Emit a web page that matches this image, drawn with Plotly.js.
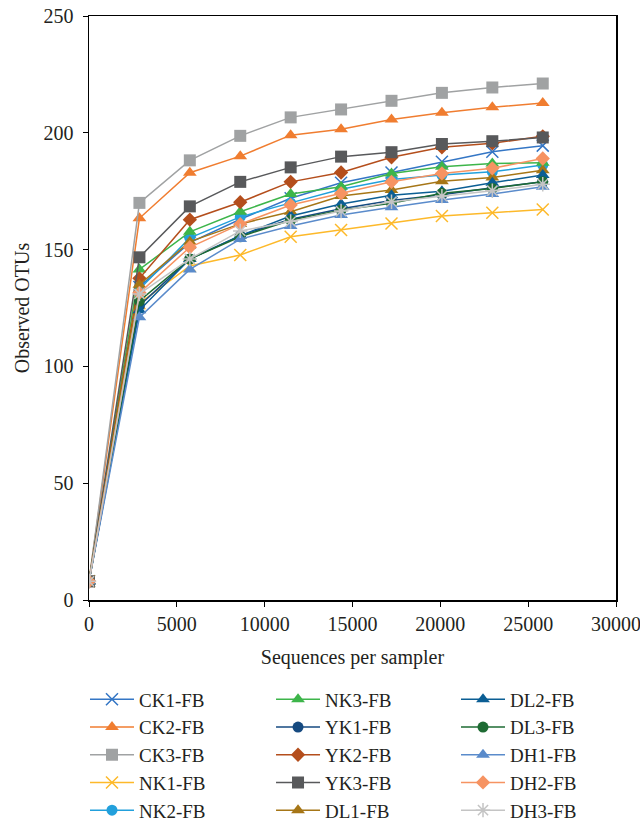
<!DOCTYPE html>
<html>
<head>
<meta charset="utf-8">
<script src="https://cdn.plot.ly/plotly-3.0.1.min.js"></script>
<style>html,body{margin:0;padding:0;background:#fff;}#chart{width:640px;height:827px;}</style>
</head>
<body>
<div id="chart"></div>
<script>
const sequences = [0, 2870, 5740, 8610, 11480, 14350, 17220, 20090, 22960, 25830];
const seriesNames = ["CK1-FB","CK2-FB","CK3-FB","NK1-FB","NK2-FB","NK3-FB","YK1-FB","YK2-FB","YK3-FB","DL1-FB","DL2-FB","DL3-FB","DH1-FB","DH2-FB","DH3-FB"];
const CK1 = [8, 134, 153, 163, 172, 178.6, 183, 187.6, 191.9, 194.5];
const CK2 = [8, 163.4, 182.9, 190, 199, 201.5, 205.7, 208.6, 210.9, 212.8];
const CK3 = [8, 170, 188.2, 198.7, 206.6, 210, 213.7, 217.1, 219.4, 221.1];
const NK1 = [8, 127, 143, 147.7, 155.5, 158.4, 161.2, 164.4, 165.8, 167.2];
const NK2 = [8, 133, 155, 164, 170, 175.8, 180, 181.9, 183.3, 186.2];
const NK3 = [8, 141.5, 157.6, 166.2, 173.8, 176.9, 182.6, 185.5, 186.9, 187.2];
const YK1 = [8, 126, 146, 156, 163, 167.5, 171, 173.5, 176.5, 179];
const YK2 = [8, 137.7, 162.8, 170.3, 179, 183, 189.5, 193.8, 195.5, 198.5];
const YK3 = [8, 146.7, 168.5, 179, 185.2, 189.8, 191.7, 195.2, 196.4, 198];
const DL1 = [8, 135, 153.4, 161, 166.2, 172.9, 175.5, 179.3, 180.9, 184];
const DL2 = [8, 124, 146, 156, 164.4, 169.5, 173.3, 175, 178.6, 181.9];
const DL3 = [8, 128, 146, 155.5, 162.6, 166.9, 169.8, 174.1, 176.2, 179];
const DH1 = [8, 121, 141.5, 154.5, 160.1, 164.8, 168.1, 171.2, 173.8, 176.9];
const DH2 = [8, 131.5, 151, 160.9, 169.1, 174.1, 179, 182.6, 184.8, 189];
const DH3 = [8, 131, 146, 158, 162, 166.5, 170.5, 172.9, 175.2, 178];
const xTicks = [0, 5000, 10000, 15000, 20000, 25000, 30000];
const yTicks = [0, 50, 100, 150, 200, 250];

const values = [CK1, CK2, CK3, NK1, NK2, NK3, YK1, YK2, YK3, DL1, DL2, DL3, DH1, DH2, DH3];
const colors = ["#3476C5","#F07D30","#A0A2A3","#FDB92A","#22A0DC","#3DB54A","#164A80","#B44E1C","#58595B","#A67617","#0B5E94","#1E6B33","#5A8BCB","#F69362","#C4C4C4"];
const symbols = ["x-thin-open","triangle-up","square","x-thin-open","circle","triangle-up","circle","diamond","square","triangle-up","triangle-up","circle","triangle-up","diamond","asterisk-open"];
const sizes = [12,12,12,12,11,12,11,11,12,12,12,11,12,11,12];
const legendIds = ["legend","legend","legend","legend","legend","legend2","legend2","legend2","legend2","legend2","legend3","legend3","legend3","legend3","legend3"];

const traces = seriesNames.map((name, i) => {
  const thin = symbols[i].indexOf("open") >= 0;
  return {
    x: sequences, y: values[i], name: name, type: "scatter", mode: "lines+markers",
    line: {color: colors[i], width: 1.5},
    marker: {symbol: symbols[i], size: sizes[i], color: colors[i],
             line: {color: colors[i], width: thin ? 1.5 : 0}},
    legend: legendIds[i]
  };
});

const font = "Liberation Serif, Times New Roman, serif";
const legBase = {orientation: "v", yanchor: "top", xanchor: "left", y: -0.1378,
  font: {family: font, size: 19, color: "#231f20"}, bgcolor: "rgba(0,0,0,0)",
  traceorder: "normal", itemwidth: 44, tracegroupgap: 0};

const layout = {
  width: 640, height: 827,
  margin: {l: 89, r: 24, t: 16, b: 227, autoexpand: false},
  paper_bgcolor: "#fff", plot_bgcolor: "#fff",
  font: {family: font, color: "#231f20"},
  showlegend: true,
  xaxis: {range: [0, 30000], tickvals: xTicks, ticktext: xTicks.map(String),
    showgrid: false, zeroline: false, showline: true, linecolor: "#000", linewidth: 1.5,
    mirror: true, ticks: "outside", ticklen: 5, tickcolor: "#000", tickwidth: 1,
    ticklabeloverflow: "allow",
    tickfont: {family: font, size: 20, color: "#231f20"},
    title: {text: "Sequences per sampler", font: {family: font, size: 20, color: "#231f20"}, standoff: 16}},
  yaxis: {range: [0, 250], tickvals: yTicks, ticktext: yTicks.map(String),
    showgrid: false, zeroline: false, showline: true, linecolor: "#000", linewidth: 1.5,
    mirror: true, ticks: "outside", ticklen: 5, tickcolor: "#000", tickwidth: 1,
    ticklabeloverflow: "allow", ticklabelstandoff: 5,
    tickfont: {family: font, size: 20, color: "#231f20"},
    title: {text: "Observed OTUs", font: {family: font, size: 20, color: "#231f20"}, standoff: 8}},
  legend: Object.assign({}, legBase, {x: -0.0076}),
  legend2: Object.assign({}, legBase, {x: 0.3454}),
  legend3: Object.assign({}, legBase, {x: 0.6964})
};

Plotly.newPlot("chart", traces, layout, {displayModeBar: false, staticPlot: true});
</script>
</body>
</html>
